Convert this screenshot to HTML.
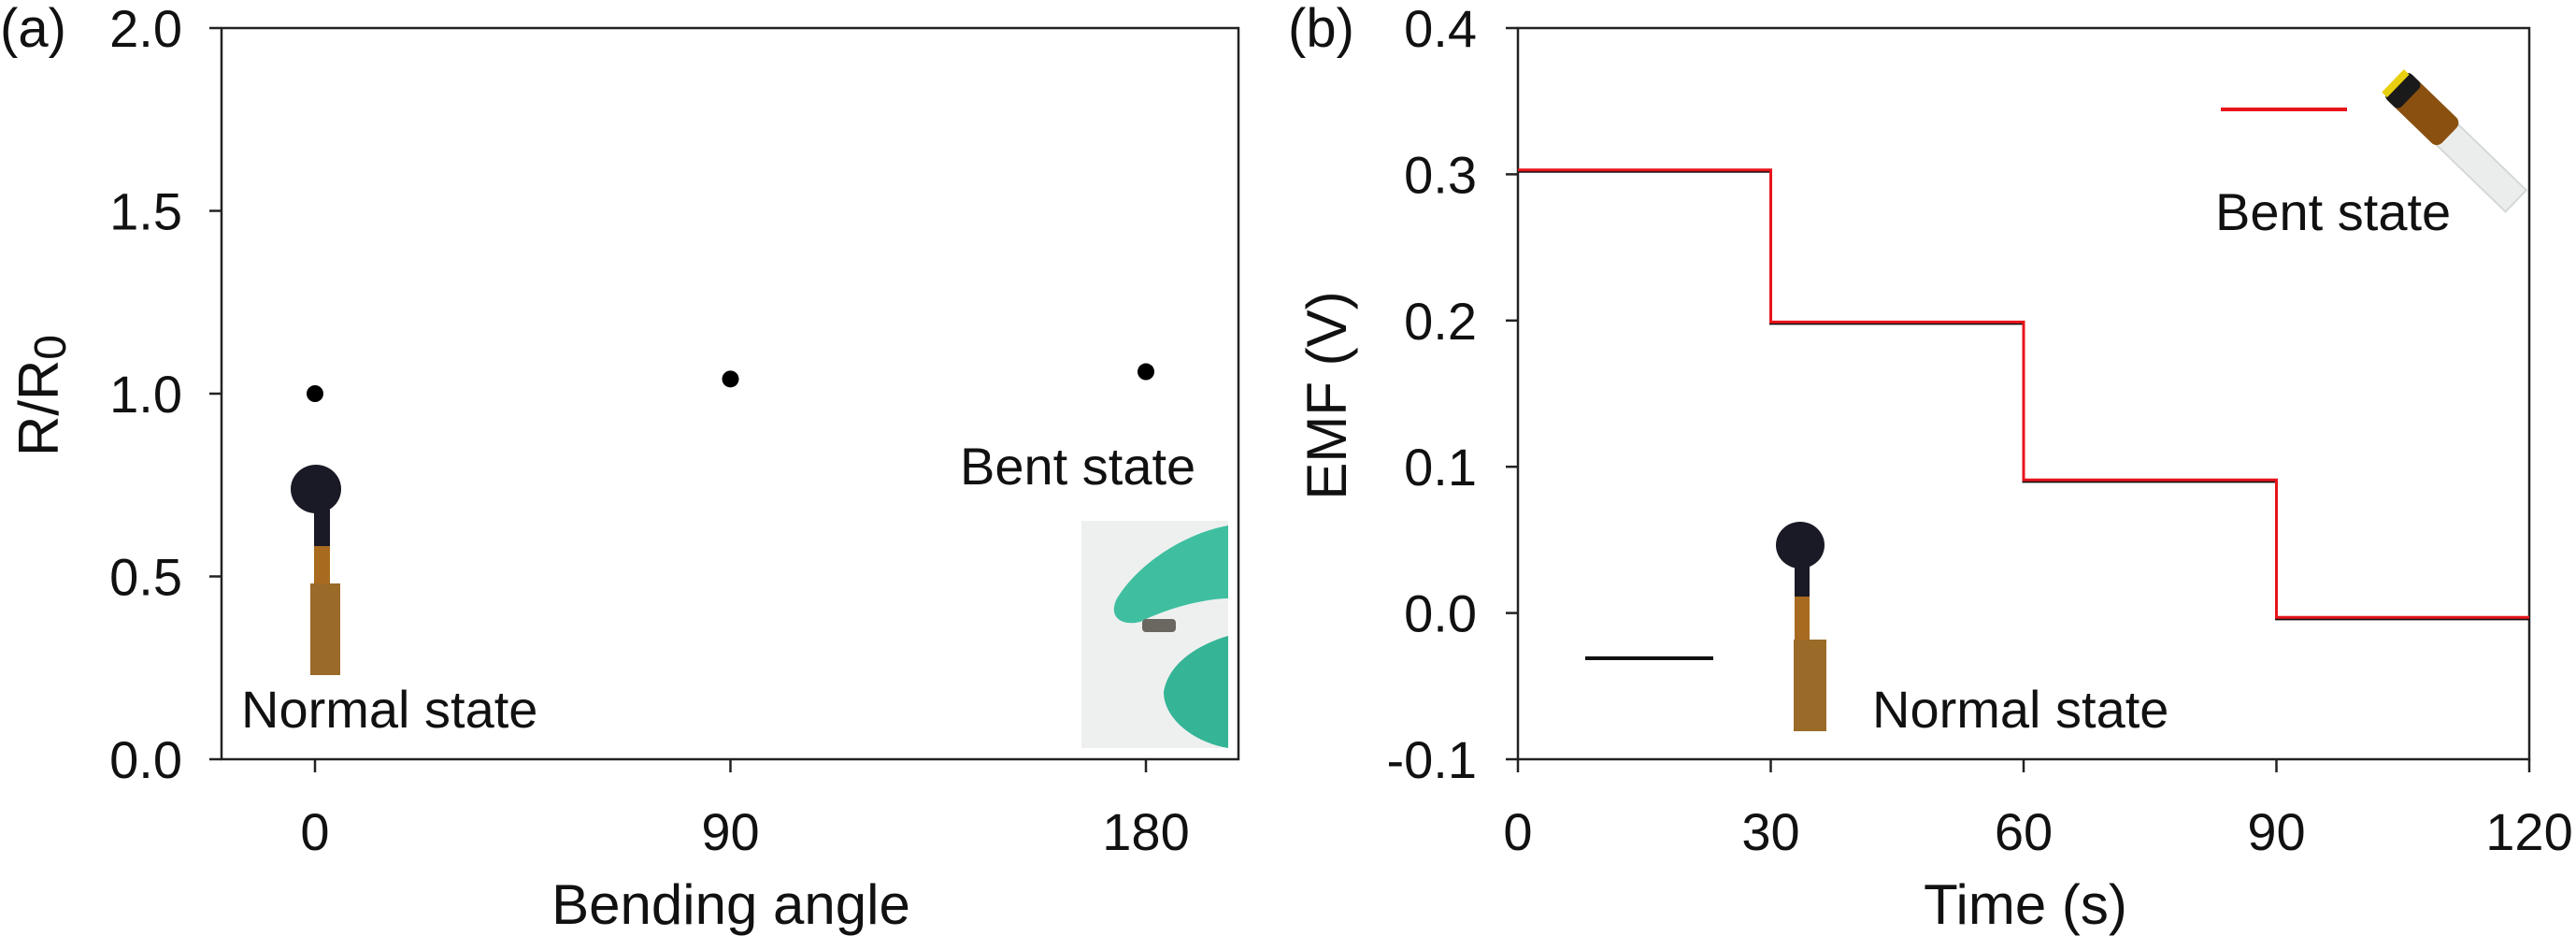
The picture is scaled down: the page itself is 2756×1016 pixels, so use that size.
<!DOCTYPE html>
<html><head><meta charset="utf-8"><style>
html,body{margin:0;padding:0;background:#fff;}
svg{display:block;font-family:"Liberation Sans",Arial,sans-serif;}
</style></head><body>
<svg id="fig" width="2756" height="1016" viewBox="0 0 2756 1016">
<g id="pa"></g>
<g id="pb"></g>
</svg>
<script>
// Panel (a) data
const aCategories = [0, 90, 180];
const aValues = [1.0, 1.04, 1.06];
const aYTicks = [0, 0.5, 1.0, 1.5, 2.0];
const aYTickLabels = ["0.0", "0.5", "1.0", "1.5", "2.0"];
// Panel (b) data
const bStepStarts = [0, 30, 60, 90];
const bStepEnds = [30, 60, 90, 120];
const bNormal = [0.302, 0.198, 0.090, -0.004];
const bBent = [0.303, 0.199, 0.091, -0.003];
const bXTicks = [0, 30, 60, 90, 120];
const bYTicks = [-0.1, 0, 0.1, 0.2, 0.3, 0.4];
const bYTickLabels = ["-0.1", "0.0", "0.1", "0.2", "0.3", "0.4"];

const NS = "http://www.w3.org/2000/svg";
function mk(parent, tag, attrs, text) {
  const e = document.createElementNS(NS, tag);
  for (const k in attrs) e.setAttribute(k, attrs[k]);
  if (text !== undefined) e.textContent = text;
  parent.appendChild(e);
  return e;
}
const FS = 56;

// ---------- Panel a ----------
const pa = document.getElementById('pa');
const aL = 237, aR = 1325, aT = 30, aB = 812;
const ax = v => 337 + (v / 180) * (1226 - 337);
const ay = v => aB - (v / 2) * (aB - aT);
let e = mk(pa, 'rect', {x: aL, y: aT, width: aR - aL, height: aB - aT, fill: 'none', stroke: '#222', 'stroke-width': 2.5});


aYTicks.forEach((t, i) => {
  mk(pa, 'line', {x1: aL - 13, x2: aL, y1: ay(t), y2: ay(t), stroke: '#222', 'stroke-width': 2.5});
  const l = mk(pa, 'text', {x: 195, y: ay(t) + 20, 'font-size': FS, 'text-anchor': 'end', fill: '#111'}, aYTickLabels[i]);
  
  
});
aCategories.forEach(c => {
  mk(pa, 'line', {x1: ax(c), x2: ax(c), y1: aB, y2: aB + 14, stroke: '#222', 'stroke-width': 2.5});
  const l = mk(pa, 'text', {x: ax(c), y: 909, 'font-size': FS, 'text-anchor': 'middle', fill: '#111'}, String(c));
  
  
});
aValues.forEach((v, i) => {
  const p = mk(pa, 'circle', {cx: ax(aCategories[i]), cy: ay(v), r: 9, fill: '#000'});
  
  
});
e = mk(pa, 'text', {x: 782, y: 988, 'font-size': 60, 'text-anchor': 'middle', fill: '#111'}, 'Bending angle');
 
e = mk(pa, 'text', {x: 0, y: 0, 'font-size': 60, 'text-anchor': 'middle', fill: '#111', transform: 'translate(62,423) rotate(-90)'});
 
e.innerHTML = 'R/R<tspan font-size="48" dy="8">0</tspan>';
e = mk(pa, 'text', {x: 0, y: 50, 'font-size': 58, fill: '#111'}, '(a)');
 
e = mk(pa, 'text', {x: 258, y: 778, 'font-size': 56, fill: '#111'}, 'Normal state');
 
e = mk(pa, 'text', {x: 1027, y: 518, 'font-size': 56, fill: '#111'}, 'Bent state');
 
// sensor photo a
const sa = mk(pa, 'g', {});
 
mk(sa, 'rect', {x: 336, y: 545, width: 17, height: 40, fill: '#1a1a26'});
mk(sa, 'rect', {x: 336, y: 584, width: 17, height: 44, fill: '#a86a1e'});
mk(sa, 'rect', {x: 332, y: 624, width: 32, height: 98, fill: '#9a6a28'});
mk(sa, 'ellipse', {cx: 338, cy: 523, rx: 27, ry: 26, fill: '#1a1a26'});
// bent photo a
const ba = mk(pa, 'g', {});
 
mk(ba, 'rect', {x: 1157, y: 557, width: 157, height: 243, fill: '#eef0ef'});
mk(ba, 'path', {d: 'M1314 562 C1270 570 1220 600 1195 640 C1185 660 1200 670 1220 665 C1250 650 1290 640 1314 640 Z', fill: '#3fbfa0'});
mk(ba, 'path', {d: 'M1314 680 C1280 690 1250 710 1245 740 C1245 770 1280 795 1314 800 Z', fill: '#35b496'});
mk(ba, 'rect', {x: 1222, y: 662, width: 36, height: 14, rx: 4, fill: '#6a6660'});
// ---------- Panel b ----------
const pb = document.getElementById('pb');
const bL = 1624, bR = 2706, bT = 30, bB = 812;
const bx = v => bL + (v / 120) * (bR - bL);
const by = v => bB - ((v + 0.1) / 0.5) * (bB - bT);
e = mk(pb, 'rect', {x: bL, y: bT, width: bR - bL, height: bB - bT, fill: 'none', stroke: '#222', 'stroke-width': 2.5});
 
bYTicks.forEach((t, i) => {
  mk(pb, 'line', {x1: bL - 13, x2: bL, y1: by(t), y2: by(t), stroke: '#222', 'stroke-width': 2.5});
  const l = mk(pb, 'text', {x: 1580, y: by(t) + 20, 'font-size': FS, 'text-anchor': 'end', fill: '#111'}, bYTickLabels[i]);
  
  
});
bXTicks.forEach(t => {
  mk(pb, 'line', {x1: bx(t), x2: bx(t), y1: bB, y2: bB + 14, stroke: '#222', 'stroke-width': 2.5});
  const l = mk(pb, 'text', {x: bx(t), y: 909, 'font-size': FS, 'text-anchor': 'middle', fill: '#111'}, String(t));
  
  
});
function stepPath(vals) {
  let d = '';
  vals.forEach((v, i) => {
    d += (i === 0 ? 'M' : 'L') + bx(bStepStarts[i]) + ' ' + by(v) + ' L' + bx(bStepEnds[i]) + ' ' + by(v) + ' ';
  });
  return d;
}
e = mk(pb, 'path', {d: stepPath(bNormal), fill: 'none', stroke: '#111', 'stroke-width': 3});
 
e = mk(pb, 'path', {d: stepPath(bBent), fill: 'none', stroke: '#e8141c', 'stroke-width': 3});
 
e = mk(pb, 'line', {x1: 1696, x2: 1833, y1: 704, y2: 704, stroke: '#111', 'stroke-width': 4});
 
e = mk(pb, 'line', {x1: 2376, x2: 2511, y1: 117, y2: 117, stroke: '#e8141c', 'stroke-width': 4});
 
e = mk(pb, 'text', {x: 2003, y: 778, 'font-size': 56, fill: '#111'}, 'Normal state');
 
e = mk(pb, 'text', {x: 2370, y: 246, 'font-size': 56, fill: '#111'}, 'Bent state');
 
e = mk(pb, 'text', {x: 2167, y: 988, 'font-size': 60, 'text-anchor': 'middle', fill: '#111'}, 'Time (s)');
 
e = mk(pb, 'text', {x: 0, y: 0, 'font-size': 60, 'text-anchor': 'middle', fill: '#111', transform: 'translate(1440,423) rotate(-90)'}, 'EMF (V)');
 
e = mk(pb, 'text', {x: 1378, y: 50, 'font-size': 58, fill: '#111'}, '(b)');
 
// sensor photo b
const sb = mk(pb, 'g', {});
 
mk(sb, 'rect', {x: 1920, y: 600, width: 16, height: 40, fill: '#1a1a26'});
mk(sb, 'rect', {x: 1920, y: 638, width: 16, height: 50, fill: '#a86a1e'});
mk(sb, 'rect', {x: 1919, y: 684, width: 35, height: 98, fill: '#9a6a28'});
mk(sb, 'ellipse', {cx: 1926, cy: 583, rx: 26, ry: 25, fill: '#1a1a26'});
// tube photo b
const tb = mk(pb, 'g', {transform: 'translate(2565,87) rotate(44)'});
 
mk(tb, 'rect', {x: 70, y: -12, width: 110, height: 32, fill: '#ebeded', stroke: '#d4d8d8', 'stroke-width': 2});
mk(tb, 'rect', {x: 0, y: -16, width: 80, height: 38, rx: 8, fill: '#8a5010'});
mk(tb, 'rect', {x: 0, y: -16, width: 22, height: 38, rx: 6, fill: '#1a1a1a'});
mk(tb, 'rect', {x: -4, y: -14, width: 8, height: 34, fill: '#e8d010'});
</script>
</body></html>
